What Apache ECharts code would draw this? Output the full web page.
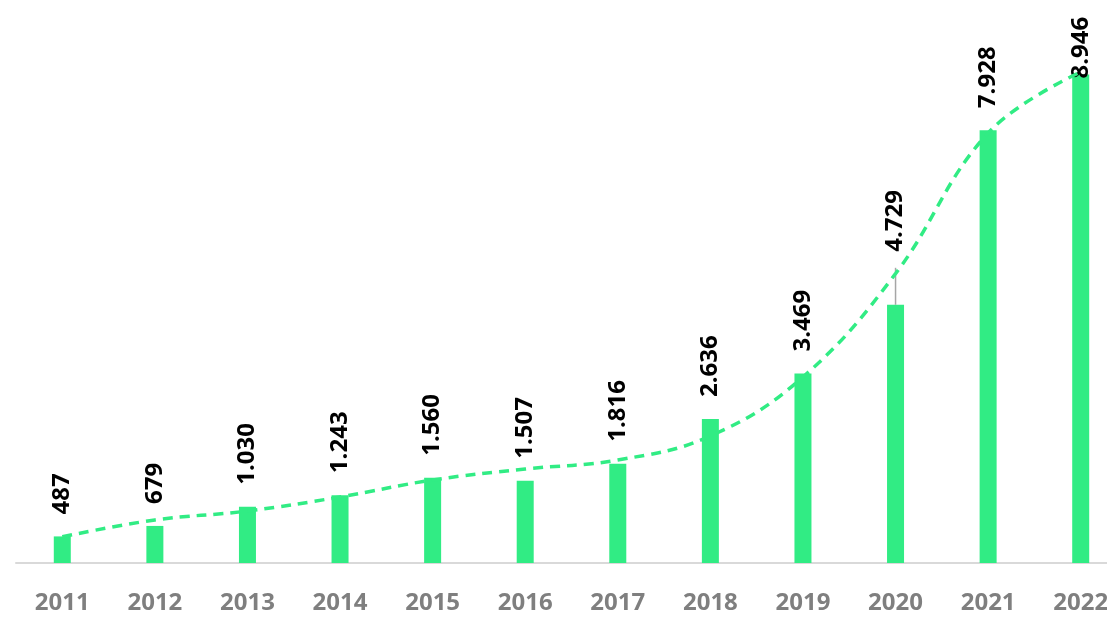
<!DOCTYPE html>
<html>
<head>
<meta charset="utf-8">
<script src="https://cdn.jsdelivr.net/npm/echarts@6/dist/echarts.min.js"></script>
<style>
  html, body { margin: 0; padding: 0; background: #ffffff; overflow: hidden; }
  /* the plot runs past the right edge of the window, so the last column is cut */
  #chart { width: 1131px; height: 617px; }
</style>
</head>
<body>
<div id="chart"></div>
<script>
// Yearly totals
const years = ['2011', '2012', '2013', '2014', '2015', '2016', '2017', '2018', '2019', '2020', '2021', '2022'];
const totals = [487, 679, 1030, 1243, 1560, 1507, 1816, 2636, 3469, 4729, 7928, 8946];
// Smoothed trend curve
const trend = [480, 788, 952, 1209, 1520, 1722, 1886, 2326, 3407, 5300, 7875, 8993];
// Year whose label is lifted clear of the curve with a leader line
const liftedYear = '2020';
// Year whose label is pulled down to stay inside the plot
const clampedYear = '2022';

const GREEN = '#31EC84';

// Thousands separator with a dot: 1030 -> "1.030"
function fmt(v) {
  return String(v).replace(/\B(?=(\d{3})+(?!\d))/g, '.');
}

const labelFont = { fontFamily: 'Open Sans', fontWeight: 'bold', fontSize: 24, color: '#000000' };

const barData = totals.map((v, i) => {
  if (years[i] === liftedYear) {
    return {
      value: v,
      label: {
        distance: 0,
        formatter: p => '{lead|}{gap|}{v|' + fmt(p.value) + '}',
        rich: {
          lead: { width: 37, height: 1.5, backgroundColor: '#a6a6a6', verticalAlign: 'middle' },
          gap: { width: 16, height: 1.5, verticalAlign: 'middle' },
          v: Object.assign({ verticalAlign: 'middle' }, labelFont)
        }
      }
    };
  }
  if (years[i] === clampedYear) {
    return { value: v, label: { distance: -4 } };
  }
  return v;
});

const chart = echarts.init(document.getElementById('chart'), null, { renderer: 'canvas' });

chart.setOption({
  animation: false,
  backgroundColor: '#ffffff',
  grid: { left: 16, right: 4, top: 17, bottom: 54, containLabel: false },
  xAxis: {
    type: 'category',
    data: years,
    axisLine: { show: true, lineStyle: { color: '#d9d9d9', width: 2 } },
    axisTick: { show: false },
    axisLabel: {
      color: '#7f7f7f',
      fontFamily: 'Open Sans',
      fontWeight: 'bold',
      fontSize: 24,
      margin: 28
    }
  },
  yAxis: {
    type: 'value',
    min: 0,
    max: 10000,
    show: false,
    splitLine: { show: false }
  },
  series: [
    {
      type: 'bar',
      data: barData,
      barWidth: 17,
      itemStyle: { color: GREEN },
      label: Object.assign({
        show: true,
        position: 'top',
        rotate: 90,
        align: 'left',
        verticalAlign: 'middle',
        distance: 22,
        formatter: p => fmt(p.value)
      }, labelFont),
      z: 2
    },
    {
      type: 'line',
      data: trend,
      smooth: 0.4,
      symbol: 'none',
      lineStyle: { color: GREEN, width: 3.5, type: [10, 7] },
      z: 3
    }
  ]
});
</script>
</body>
</html>
